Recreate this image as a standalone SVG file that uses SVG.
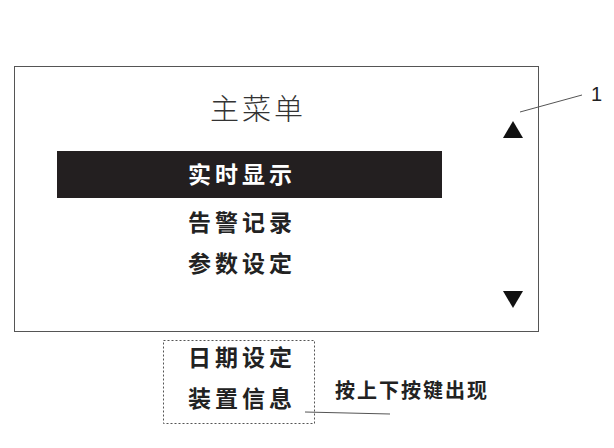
<svg xmlns="http://www.w3.org/2000/svg" width="614" height="448" viewBox="0 0 614 448">
<style>
.t{font-family:"Noto Sans CJK SC",sans-serif;font-size:23px;font-weight:bold;letter-spacing:4px;text-anchor:middle;fill:#222}
.ln{stroke:#555;stroke-width:1;fill:none}
</style>
<rect width="614" height="448" fill="#fff"/>
<g id="screen">
<rect x="14.5" y="66.5" width="524" height="265" class="ln"/>
<text x="258" y="120" style="font-family:'Noto Sans CJK SC',sans-serif;font-size:29px;font-weight:300;letter-spacing:3px;text-anchor:middle;fill:#333">主菜单</text>
<rect x="57" y="151" width="385" height="47" fill="#231f20"/>
<text x="242" y="183" class="t" style="fill:#fff">实时显示</text>
<text x="242" y="231" class="t">告警记录</text>
<text x="242" y="272" class="t">参数设定</text>
<polygon points="503,138 513,121 523,138" fill="#111"/>
<polygon points="503,291 523,291 513,308" fill="#111"/>
</g>
<g id="hidden">
<rect x="163.5" y="340.5" width="151" height="83" class="ln" stroke-dasharray="2,2"/>
<text x="242" y="366" class="t">日期设定</text>
<text x="242" y="407" class="t">装置信息</text>
</g>
<g id="connectors">
<line x1="520" y1="112" x2="582" y2="95" class="ln"/>
<line x1="305" y1="412" x2="390" y2="414" class="ln"/>
</g>
<text x="591" y="101" style="font-family:'Liberation Sans',sans-serif;font-size:20px;fill:#222">1</text>
<text x="412" y="398" class="t" style="font-size:20px;letter-spacing:2px">按上下按键出现</text>
</svg>
